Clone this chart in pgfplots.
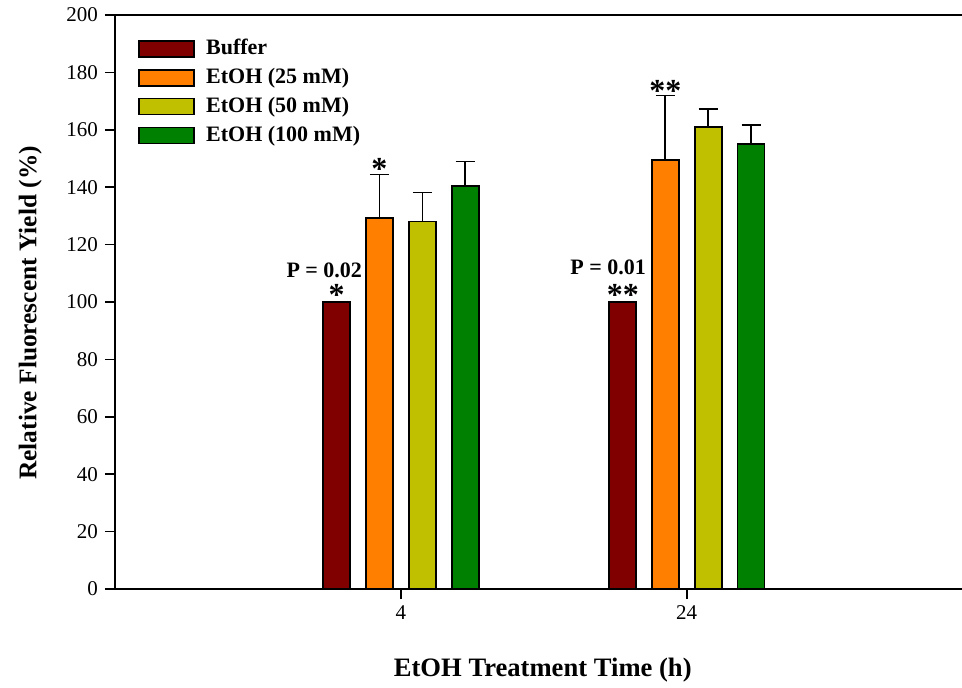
\documentclass[border=0pt]{standalone}
\usepackage{fontspec}
\setmainfont{Liberation Serif}
\usepackage{pgfplots}
\pgfplotsset{compat=1.18}

\definecolor{cBuffer}{HTML}{800000}
\definecolor{cEtA}{HTML}{FF8000}
\definecolor{cEtB}{HTML}{C0C000}
\definecolor{cEtC}{HTML}{008000}

\begin{document}
\begin{tikzpicture}
\begin{axis}[
  at={(57.5pt,49pt)}, anchor=south west,
  scale only axis, width=423.5pt, height=287pt,
  xmin=-1, xmax=1.963, ymin=0, ymax=200,
  axis x line*=bottom, axis y line*=left,
  axis line style={line width=1pt},
  xtick={0,1}, xticklabels={4,24},
  ytick={0,20,...,200},
  tick align=outside,
  major tick length=5pt,
  tick style={line width=0.8pt, black},
  ticklabel style={font=\fontsize{10.5}{12}\selectfont},
  /pgf/number format/assume math mode=true,
  xlabel={EtOH Treatment Time (h)},
  ylabel={Relative Fluorescent Yield (\%)},
  xlabel style={at={(axis description cs:0.505,-0.141)}, anchor=center, font=\bfseries\fontsize{13.3}{15}\selectfont},
  ylabel style={at={(axis description cs:-0.1,0.481)}, anchor=center, font=\bfseries\fontsize{12.7}{15}\selectfont},
  bar width=0.0944,
  legend style={draw=none, fill=none, at={(rel axis cs:0.0272,0.965)}, anchor=north west,
    inner sep=0pt, row sep=1.3pt, column sep=3.5pt,
    font=\bfseries\fontsize{11}{13}\selectfont},
  legend cell align=left,
  legend image code/.code={\draw[#1, line width=0.85pt] (0pt,-4pt) rectangle (27.5pt,4pt);},
  error bars/error bar style={line width=0.8pt, black},
  error bars/error mark options={rotate=90, mark size=4.75pt, line width=0.8pt, black},
]
% Buffer (reference level)
\addplot[ybar, bar shift=0pt, fill=cBuffer, draw=black, line width=0.85pt]
  coordinates {(-0.225,100) (0.775,100)};
\addlegendentry{Buffer}
% EtOH 25 mM
\addplot[ybar, bar shift=0pt, fill=cEtA, draw=black, line width=0.85pt,
  error bars/.cd, y dir=plus, y explicit]
  coordinates {(-0.075,129.3) +- (0,15.1) (0.925,149.5) +- (0,22.4)};
\addlegendentry{EtOH (25 mM)}
% EtOH 50 mM
\addplot[ybar, bar shift=0pt, fill=cEtB, draw=black, line width=0.85pt,
  error bars/.cd, y dir=plus, y explicit]
  coordinates {(0.075,128.0) +- (0,10.1) (1.075,160.9) +- (0,6.3)};
\addlegendentry{EtOH (50 mM)}
% EtOH 100 mM
\addplot[ybar, bar shift=0pt, fill=cEtC, draw=black, line width=0.85pt,
  error bars/.cd, y dir=plus, y explicit]
  coordinates {(0.225,140.4) +- (0,8.6) (1.225,155.1) +- (0,6.5)};
\addlegendentry{EtOH (100 mM)}

% frame line along the top
\draw[line width=1pt] (rel axis cs:0,1) -- (rel axis cs:1,1);

% significance marks
\node[font=\bfseries\fontsize{11}{13}\selectfont] at (axis cs:-0.268,111.2) {P = 0.02};
\node[font=\bfseries\fontsize{16}{16}\selectfont, inner sep=0pt] at (axis cs:-0.225,102.6) {*};
\node[font=\bfseries\fontsize{16}{16}\selectfont, inner sep=0pt] at (axis cs:-0.075,146.2) {*};
\node[font=\bfseries\fontsize{11}{13}\selectfont] at (axis cs:0.725,112.2) {P = 0.01};
\node[font=\bfseries\fontsize{16}{16}\selectfont, inner sep=0pt] at (axis cs:0.777,102.6) {**};
\node[font=\bfseries\fontsize{16}{16}\selectfont, inner sep=0pt] at (axis cs:0.925,173.6) {**};
\end{axis}
\pgfresetboundingbox
\useasboundingbox (0,0) rectangle (481pt,343.5pt);
\end{tikzpicture}
\end{document}
